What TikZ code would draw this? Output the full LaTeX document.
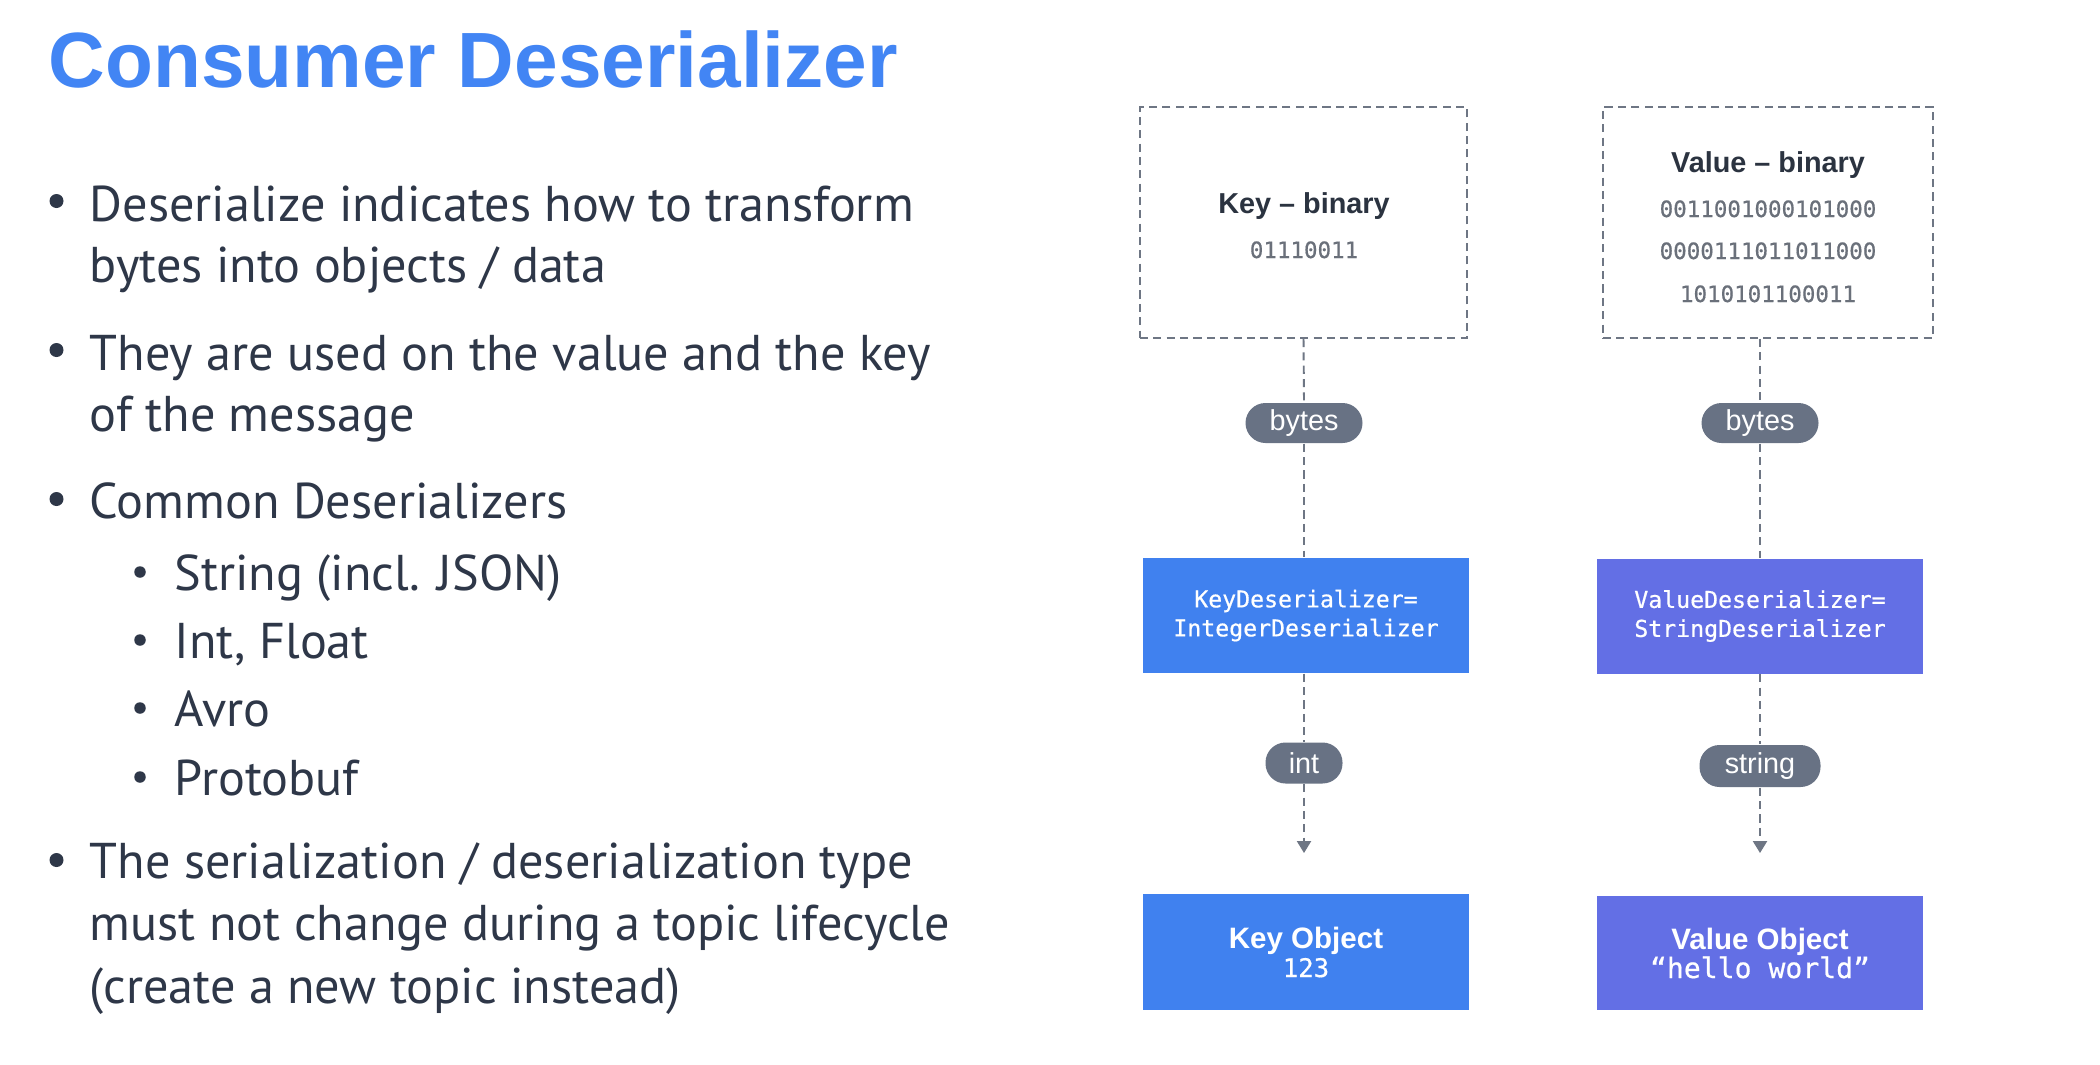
\documentclass[tikz,border=0pt]{standalone}
\usepackage{fontspec}
\setmainfont{PT Sans}
\newfontfamily\headfont{Liberation Sans}
\newfontfamily\codefont{DejaVu Sans Mono}
\newfontface\codemedium{DejaVu Sans Mono}[FakeBold=0.6]
\usetikzlibrary{arrows.meta}

\definecolor{titleblue}{HTML}{4285F4}
\definecolor{bodyink}{HTML}{2E3748}
\definecolor{keyblue}{HTML}{4081EF}
\definecolor{valviolet}{HTML}{636FE5}
\definecolor{pillgray}{HTML}{687284}
\definecolor{linegray}{HTML}{6E7684}
\definecolor{digitgray}{HTML}{6A707A}
\definecolor{labelink}{HTML}{2B3340}

\begin{document}
\begin{tikzpicture}[x=0.1mm,y=-0.1mm,
  body/.style={anchor=base west,inner sep=0,text=bodyink,
    font=\fontsize{14.3}{17}\selectfont},
  dot/.style={circle,fill=bodyink,inner sep=0,minimum size=1.4mm},
  subdot/.style={circle,fill=bodyink,inner sep=0,minimum size=1.15mm},
  dashline/.style={draw=linegray,line width=0.55pt,dash pattern=on 2.3pt off 1.5pt},
  binbox/.style={dashline,rectangle,inner sep=0},
  binlabel/.style={anchor=base,inner sep=0,text=labelink,
    font=\headfont\bfseries\fontsize{8.2}{10}\selectfont},
  bits/.style={anchor=base,inner sep=0,text=digitgray,
    font=\codemedium\fontsize{6.4}{8}\selectfont},
  pill/.style={rectangle,rounded corners=2mm,fill=pillgray,inner sep=0,
    text=white,font=\headfont\fontsize{8.2}{9}\selectfont},
  deser/.style={rectangle,inner sep=0,text=white,align=center,
    minimum width=32.6mm,minimum height=11.5mm,
    font=\codemedium\fontsize{6.6}{8.25}\selectfont},
  flowarrow/.style={dashline,-{Triangle[length=3.4pt,width=4pt]}}
]
\fill[white] (0,0) rectangle (2100,1064);
\useasboundingbox (0,0) rectangle (2100,1064);

% heading
\node[anchor=base west,inner sep=0,text=titleblue,
  font=\headfont\bfseries\fontsize{22.3}{26}\selectfont] (title) at (48,88) {Consumer Deserializer};

% bullet list
\node[dot] (d1) at (56.5,201) {};
\node[body] (l1a) at (89,221) {Deserialize indicates how to transform};
\node[body] (l1b) at (89,282) {bytes into objects / data};
\node[dot] (d2) at (56.5,350) {};
\node[body] (l2a) at (89,370) {They are used on the value and the key};
\node[body] (l2b) at (89,431) {of the message};
\node[dot] (d3) at (56.5,499) {};
\node[body] (l3) at (89,518) {Common Deserializers};
\node[subdot] (s1) at (140,572) {};
\node[body] (l3a) at (174,590) {String (incl. JSON)};
\node[subdot] (s2) at (140,640) {};
\node[body] (l3b) at (174,658) {Int, Float};
\node[subdot] (s3) at (140,708) {};
\node[body] (l3c) at (174,726) {Avro};
\node[subdot] (s4) at (140,777) {};
\node[body] (l3d) at (174,795) {Protobuf};
\node[dot] (d4) at (56.5,860) {};
\node[body] (l4a) at (89,878) {The serialization / deserialization type};
\node[body] (l4b) at (89,940) {must not change during a topic lifecycle};
\node[body] (l4c) at (89,1003) {(create a new topic instead)};

% key column
\node[binbox,minimum width=32.7mm,minimum height=23.1mm] (kbin) at (1303.5,222.5) {};
\node[binlabel] (klabel) at (1304,213) {Key – binary};
\node[bits] (kbits) at (1304,258) {01110011};
\node[pill,minimum width=11.7mm,minimum height=4mm] (kbytes) at (1304,423) {bytes};
\node[deser,fill=keyblue] (kdeser) at (1306,615.5) {KeyDeserializer=\\IntegerDeserializer};
\node[pill,minimum width=7.7mm,minimum height=4.1mm] (kint) at (1304,763) {int};
\coordinate (kend) at (1304,853);
\node[deser,fill=keyblue,minimum height=11.6mm] (kobj) at (1306,952)
  {{\headfont\bfseries\fontsize{8.4}{8.25}\selectfont Key Object}\\{\fontsize{7.3}{8.25}\selectfont 123}};

\draw[dashline] (kbin.south) -- (kbytes.north);
\draw[dashline] (kbytes.south) -- (kdeser.north -| kbytes);
\draw[dashline] (kdeser.south -| kint) -- (kint.north);
\draw[flowarrow] (kint.south) -- (kend);

% value column
\node[binbox,minimum width=33mm,minimum height=23.1mm] (vbin) at (1768,222.5) {};
\node[binlabel] (vlabel) at (1768,172) {Value – binary};
\node[bits] (vbits1) at (1768,217) {0011001000101000};
\node[bits] (vbits2) at (1768,259) {0000111011011000};
\node[bits] (vbits3) at (1768,302) {1010101100011};
\node[pill,minimum width=11.7mm,minimum height=4mm] (vbytes) at (1760,423) {bytes};
\node[deser,fill=valviolet] (vdeser) at (1760,616) {ValueDeserializer=\\StringDeserializer};
\node[pill,minimum width=12.1mm,minimum height=4.2mm] (vstr) at (1760,766) {string};
\coordinate (vend) at (1760,853);
\node[deser,fill=valviolet,minimum height=11.4mm] (vobj) at (1760,953)
  {{\headfont\bfseries\fontsize{8.4}{8.8}\selectfont Value Object}\\{\fontsize{8.0}{8.8}\selectfont “hello world”}};

\draw[dashline] (vbin.south -| vbytes) -- (vbytes.north);
\draw[dashline] (vbytes.south) -- (vdeser.north);
\draw[dashline] (vdeser.south) -- (vstr.north);
\draw[flowarrow] (vstr.south) -- (vend);
\end{tikzpicture}
\end{document}
